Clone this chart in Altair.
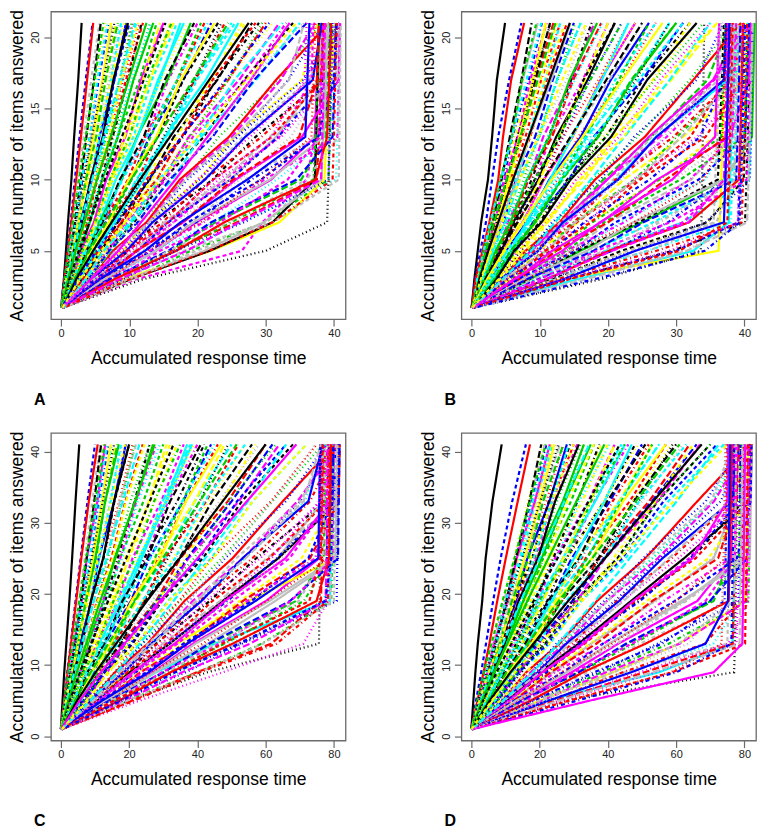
import altair as alt
import pandas as pd

LEVELS_21 = [1, 3, 5, 7, 10, 13, 17, 21]
LEVELS_41 = [1, 5, 9, 13, 19, 25, 33, 41]

# accumulated response time of each respondent at those levels (panel A, 21 items)
TIMES_A = [
    [0, 0.4, 0.7, 1.0, 1.5, 1.9, 2.5, 3.0],
    [0.1, 1.4, 2.4, 3.8, 5.3, 7.4, 9.5, 12.0],
    [0.2, 3.9, 8.3, 11.5, 18.2, 23.1, 32.0, 37.9],
    [0.1, 0.8, 1.5, 2.3, 3.1, 4.2, 5.5, 7.0],
    [0.2, 2.9, 4.9, 7.9, 11.0, 15.4, 19.6, 25.0],
    [0.3, 6.4, 13.9, 19.8, 30.8, 37.2, 37.5, 37.8],
    [0.1, 1.7, 3.5, 4.7, 7.5, 9.4, 13.1, 16.0],
    [0, 1.1, 1.9, 3.0, 4.1, 5.6, 7.2, 9.0],
    [0.2, 4.6, 9.9, 14.0, 22.2, 28.5, 38.5, 39.0],
    [0.2, 3.1, 6.4, 8.8, 14.0, 17.6, 24.5, 30.0],
    [0.1, 1.6, 2.7, 4.2, 6.0, 8.3, 10.6, 13.5],
    [0, 0.4, 0.9, 1.4, 2.0, 2.7, 3.6, 4.6],
    [0.3, 8.6, 18.4, 26.3, 40.3, 40.5, 40.7, 40.9],
    [0.1, 2.4, 3.9, 6.3, 8.8, 12.5, 15.7, 20.0],
    [0.2, 0.9, 1.8, 2.4, 3.8, 4.7, 6.6, 8.0],
    [0.3, 5.1, 11.2, 15.6, 24.8, 31.5, 37.8, 38.2],
    [0.3, 3.9, 6.6, 10.7, 15.0, 20.9, 26.8, 34.0],
    [0.3, 1.1, 2.3, 3.2, 4.9, 6.2, 8.7, 10.5],
    [0.1, 10.3, 19.0, 29.9, 39.2, 39.4, 39.6, 39.8],
    [0.2, 2.2, 4.8, 6.5, 10.3, 12.9, 17.9, 22.0],
    [0, 2.1, 3.6, 5.7, 8.0, 11.2, 14.2, 18.0],
    [0.3, 11.0, 26.5, 29.5, 36.0, 37.2, 37.6, 38.0],
    [0, 0.7, 1.3, 2.1, 2.9, 4.0, 5.1, 6.5],
    [0.2, 6.5, 11.9, 19.1, 27.0, 37.4, 40.3, 40.6],
    [0.3, 2.9, 5.9, 8.3, 13.0, 16.5, 22.9, 28.0],
    [0, 0.5, 1.0, 1.5, 2.2, 2.9, 3.8, 4.7],
    [0.3, 1.4, 3.0, 4.2, 6.6, 8.3, 11.5, 14.0],
    [0.1, 4.4, 8.1, 13.2, 18.5, 25.9, 33.3, 38.5],
    [0.1, 1.2, 2.5, 3.3, 5.1, 6.5, 9.0, 11.0],
    [0.1, 3.3, 6.8, 9.4, 14.9, 18.7, 26.1, 32.0],
    [0.3, 9.0, 22.0, 32.0, 38.6, 38.9, 39.5, 40.2],
    [0.2, 9.0, 18.0, 30.0, 37.0, 37.4, 37.8, 38.2],
    [0.2, 12.0, 30.0, 39.0, 39.2, 39.3, 39.4, 39.5],
    [0.3, 2.5, 5.1, 7.1, 11.3, 14.0, 19.7, 24.0],
    [0.1, 7.3, 16.0, 22.6, 35.2, 38.8, 39.1, 39.4],
    [0.2, 1.0, 2.1, 2.8, 4.5, 5.6, 7.8, 9.5],
    [0.3, 2.0, 3.3, 5.4, 7.5, 10.6, 13.3, 17.0],
    [0.1, 5.6, 10.2, 16.4, 23.1, 32.3, 39.7, 40.1],
    [0.2, 2.8, 5.8, 7.9, 12.6, 15.8, 22.0, 27.0],
    [0, 0.8, 1.7, 2.3, 3.6, 4.4, 6.1, 7.5],
    [0.3, 10.1, 21.8, 31.0, 37.2, 37.4, 37.6, 37.8],
    [0.3, 2.1, 4.5, 6.2, 9.8, 12.3, 17.1, 21.0],
    [0.2, 1.3, 2.8, 3.8, 6.1, 7.6, 10.7, 13.0],
    [0.1, 6.7, 12.2, 19.8, 27.9, 38.0, 38.3, 38.6],
    [0.2, 3.6, 7.4, 10.3, 16.3, 20.5, 28.6, 35.0],
    [0, 1.8, 2.9, 4.8, 6.6, 9.4, 11.7, 15.0],
    [0.3, 4.1, 9.0, 12.7, 20.2, 25.4, 35.3, 37.6],
    [0, 0.9, 1.9, 2.5, 4.0, 5.0, 7.0, 8.5],
    [0.1, 3.4, 5.6, 9.1, 12.8, 17.9, 22.7, 29.0],
    [0.2, 8.7, 16.1, 25.8, 37.5, 37.8, 38.1, 38.4],
    [0.2, 1.9, 4.1, 5.6, 8.9, 11.1, 15.6, 19.0],
    [0, 1.3, 2.0, 3.2, 4.4, 6.3, 7.8, 10.0],
    [0.2, 7.5, 13.8, 22.3, 31.6, 39.7, 40.0, 40.3],
    [0.2, 3.4, 7.0, 9.7, 15.3, 19.3, 27.0, 33.0],
    [0.1, 1.9, 3.4, 5.0, 7.4, 10.1, 13.0, 16.5],
    [0.2, 9.8, 21.0, 29.7, 38.2, 38.4, 38.6, 38.8],
    [0.1, 2.6, 4.5, 7.2, 10.1, 14.2, 17.9, 23.0],
    [0.2, 1.3, 2.3, 3.6, 5.2, 7.1, 9.1, 11.5],
    [0.3, 8.0, 16.8, 24.9, 37.0, 37.3, 37.6, 37.9],
    [0.1, 4.0, 7.0, 11.2, 15.9, 22.2, 28.3, 36.0],
    [0, 2.7, 5.5, 7.7, 12.1, 15.2, 21.2, 26.0],
    [0.3, 5.5, 11.0, 16.5, 24.0, 32.0, 36.7, 37.0],
    [0.3, 3.5, 6.1, 9.6, 13.7, 19.1, 24.4, 31.0],
    [0, 0.6, 1.2, 1.7, 2.5, 3.3, 4.4, 5.6],
    [0, 0.75, 1.45, 2.0, 2.9, 3.7, 4.8, 5.8],
    [0.2, 4.4, 7.6, 12.5, 17.4, 24.6, 31.5, 39.3],
    [0.1, 0.5, 1.05, 1.7, 2.6, 3.6, 4.9, 6.2],
    [0.1, 4.1, 9.2, 12.8, 20.3, 25.8, 35.5, 40.8],
    [0, 0.75, 1.3, 2.1, 3.0, 4.2, 5.3, 6.8],
    [0.3, 4.5, 7.9, 12.8, 17.9, 25.0, 32.2, 37.2],
    [0.1, 0.95, 1.8, 2.55, 3.65, 4.7, 6.05, 7.3],
    [0.2, 4.2, 9.4, 13.1, 20.9, 26.6, 36.4, 39.9],
    [0.2, 0.6, 1.35, 2.1, 3.3, 4.5, 6.2, 7.8],
    [0.1, 5.2, 9.3, 14.9, 21.0, 29.4, 38.0, 40.9],
    [0, 0.9, 1.6, 2.6, 3.65, 5.15, 6.5, 8.3],
    [0.3, 4.3, 9.6, 13.4, 21.1, 27.0, 36.9, 38.2],
    [0.1, 1.15, 2.2, 3.1, 4.4, 5.6, 7.3, 8.8],
    [0.2, 4.9, 8.7, 14.1, 19.9, 27.7, 36.3, 36.7],
    [0.2, 0.75, 1.6, 2.5, 3.9, 5.4, 7.35, 9.3],
    [0.1, 4.8, 10.8, 15.1, 23.9, 30.6, 40.3, 40.6],
    [0.1, 1.1, 1.85, 3.05, 4.3, 6.1, 7.65, 9.8],
    [0.3, 5.5, 9.7, 15.7, 22.3, 30.9, 38.2, 38.5],
    [0, 1.35, 2.6, 3.6, 5.15, 6.6, 8.55, 10.3],
    [0.2, 5.0, 11.2, 15.7, 24.8, 31.8, 39.2, 39.5],
    [0.3, 0.85, 1.85, 2.9, 4.55, 6.25, 8.55, 10.8],
    [0.1, 6.2, 11.1, 17.9, 25.6, 35.3, 40.7, 40.9],
    [0.1, 1.25, 2.15, 3.5, 5.0, 7.0, 8.8, 11.3],
    [0.3, 5.3, 11.9, 16.6, 26.2, 33.7, 38.7, 39.0],
    [0.2, 1.55, 2.95, 4.1, 5.9, 7.55, 9.8, 11.8],
    [0.2, 6.1, 11.0, 17.8, 25.2, 34.9, 37.5, 37.8],
    [0.1, 1.0, 2.1, 3.4, 5.25, 7.25, 9.9, 12.5],
    [0.1, 6.0, 13.2, 18.6, 29.3, 37.7, 40.0, 40.3],
    [0.2, 1.45, 2.5, 4.1, 5.8, 8.2, 10.3, 13.2],
    [0.3, 7.2, 13.0, 20.9, 29.8, 40.5, 40.7, 40.9],
    [0.1, 1.9, 3.6, 5.1, 7.25, 9.3, 12.0, 14.5],
    [0.2, 6.3, 13.9, 19.4, 30.6, 38.5, 38.8, 39.1],
    [0.3, 1.2, 2.6, 4.15, 6.4, 8.9, 12.1, 15.3],
    [0.1, 7.0, 12.7, 20.5, 29.3, 36.7, 37.0, 37.3],
    [0.1, 1.8, 3.1, 5.0, 7.1, 10.0, 12.6, 16.2],
    [0.3, 7.1, 15.7, 22.0, 34.5, 39.8, 40.1, 40.4],
    [0.2, 2.3, 4.4, 6.1, 8.75, 11.2, 14.5, 17.5],
    [0.2, 7.9, 14.5, 23.2, 33.2, 37.8, 38.1, 38.4],
    [0.1, 1.5, 3.15, 5.0, 7.8, 10.7, 14.6, 18.5],
    [0.1, 8.4, 15.8, 24.5, 36.0, 40.6, 40.75, 40.9],
    [0.3, 2.15, 3.7, 6.05, 8.6, 12.1, 15.2, 19.5],
    [0.3, 7.8, 16.9, 23.9, 37.3, 39.0, 39.3, 39.6],
    [0.1, 2.65, 5.1, 7.2, 10.25, 13.1, 17.0, 20.5],
    [0.2, 9.1, 16.8, 26.8, 39.2, 39.4, 39.6, 39.8],
    [0.2, 1.7, 3.65, 5.8, 9.0, 12.5, 17.0, 21.5],
    [0.1, 8.5, 18.4, 26.1, 38.1, 38.3, 38.5, 38.7],
    [0.1, 2.5, 4.3, 7.0, 9.9, 13.95, 17.55, 22.5],
    [0.3, 10.6, 19.8, 31.1, 40.7, 40.8, 40.9, 41.0],
    [0.3, 3.05, 5.9, 8.2, 11.75, 15.0, 19.5, 23.5],
    [0.2, 10.1, 21.7, 31.0, 39.8, 40.0, 40.2, 40.4],
    [0.1, 1.95, 4.15, 6.6, 10.3, 14.2, 19.35, 24.5],
    [0.1, 5.6, 12.3, 17.5, 27.3, 35.8, 36.1, 36.4],
    [0.2, 2.8, 4.85, 7.9, 11.2, 15.8, 19.9, 25.5],
    [0.3, 5.3, 9.8, 15.6, 22.4, 30.8, 35.7, 36.0],
    [0.1, 3.45, 6.6, 9.3, 13.25, 16.95, 22.0, 26.5],
    [0.2, 4.4, 8.0, 12.9, 18.2, 25.4, 33.4, 35.6],
    [0.3, 2.2, 4.7, 7.4, 11.55, 15.95, 21.7, 27.5],
    [0.1, 3.15, 5.4, 8.85, 12.5, 17.7, 22.2, 28.5],
    [0.2, 3.85, 7.4, 10.3, 14.75, 18.9, 24.5, 29.5],
    [0.1, 2.45, 5.2, 8.2, 12.8, 17.7, 24.1, 30.5],
    [0.3, 3.6, 6.2, 10.1, 14.3, 20.2, 25.4, 32.5],
    [0.1, 4.35, 8.4, 11.7, 16.75, 21.45, 27.8, 33.5],
    [0.2, 2.75, 5.85, 9.3, 14.5, 20.0, 27.25, 34.5],
    [0.1, 3.9, 6.75, 11.0, 15.6, 22.0, 27.7, 35.5],
]

# panel B, 21 items
TIMES_B = [
    [0, 0.4, 0.9, 1.4, 2.4, 3.0, 3.7, 4.9],
    [0.2, 1.6, 2.7, 4.4, 6.1, 8.6, 11.0, 14.0],
    [0.1, 4.3, 8.0, 12.4, 17.8, 24.3, 32.0, 38.4],
    [0.1, 1.1, 2.2, 3.0, 4.8, 6.0, 8.4, 10.3],
    [0.3, 10.8, 19.7, 31.0, 40.7, 40.9, 41.1, 41.3],
    [0.3, 2.7, 4.6, 7.5, 10.6, 14.8, 18.9, 24.0],
    [0.2, 5.7, 12.4, 17.3, 27.6, 35.6, 39.3, 39.6],
    [0.1, 1.8, 3.6, 5.0, 7.9, 9.9, 13.9, 17.0],
    [0.2, 14.0, 29.5, 40.1, 40.3, 40.5, 40.7, 40.9],
    [0, 1.4, 2.3, 3.8, 5.2, 7.4, 9.4, 12.0],
    [0.2, 3.4, 5.9, 9.4, 13.1, 18.5, 23.6, 30.0],
    [0, 0.5, 1.3, 2.1, 3.0, 3.9, 5.5, 7.3],
    [0.3, 7.1, 15.6, 21.9, 34.3, 37.7, 38.0, 38.3],
    [0.2, 2.0, 4.3, 5.8, 9.3, 11.6, 16.3, 20.0],
    [0.1, 5.3, 9.8, 15.6, 22.3, 31.0, 40.6, 40.9],
    [0, 1.1, 1.9, 3.0, 4.2, 5.9, 7.5, 9.7],
    [0.2, 11.9, 22.0, 34.6, 39.9, 40.1, 40.3, 40.5],
    [0.1, 2.6, 5.8, 7.8, 12.6, 15.6, 22.0, 27.0],
    [0.3, 4.9, 10.8, 15.0, 23.9, 30.1, 38.7, 39.0],
    [0.2, 1.7, 2.9, 4.7, 6.5, 9.3, 11.9, 15.0],
    [0.3, 15.5, 32.5, 37.7, 37.9, 38.1, 38.3, 38.5],
    [0.2, 8.0, 20.0, 31.0, 37.5, 37.7, 38.0, 38.3],
    [0.3, 3.1, 6.9, 9.4, 15.3, 19.3, 26.8, 33.0],
    [0.1, 9.2, 17.2, 27.0, 39.6, 39.8, 40.0, 40.2],
    [0.2, 1.2, 2.4, 3.3, 5.3, 6.7, 9.3, 11.5],
    [0, 0.6, 1.6, 2.6, 3.9, 4.6, 5.8, 7.7],
    [0.3, 6.4, 13.9, 19.4, 30.6, 40.0, 40.3, 40.6],
    [0.1, 2.5, 4.2, 6.8, 9.6, 13.5, 17.3, 22.0],
    [0.2, 12.2, 25.8, 38.0, 38.2, 38.4, 38.6, 38.8],
    [0.3, 1.9, 3.9, 5.3, 8.4, 10.5, 14.7, 18.0],
    [0.2, 13.0, 36.2, 36.4, 36.6, 36.8, 37.0, 37.2],
    [0.2, 10.0, 26.0, 35.5, 35.7, 36.0, 36.3, 36.6],
    [0.3, 19.0, 33.6, 33.7, 33.8, 33.9, 34.0, 34.1],
    [0, 1.5, 2.5, 4.1, 5.7, 7.9, 10.2, 13.0],
    [0.1, 4.7, 8.4, 13.5, 19.3, 26.3, 34.6, 37.9],
    [0.2, 2.9, 5.0, 8.1, 11.4, 16.0, 20.4, 26.0],
    [0.3, 9.6, 17.9, 26.6, 38.6, 38.8, 39.0, 39.2],
    [0.2, 3.9, 6.7, 10.9, 15.3, 21.6, 27.6, 35.0],
    [0.1, 1.0, 2.2, 3.1, 5.0, 6.3, 8.8, 10.8],
    [0.2, 6.5, 14.6, 20.0, 32.2, 38.2, 38.5, 38.8],
    [0.1, 2.2, 4.4, 6.1, 9.8, 12.4, 17.0, 21.0],
    [0.3, 5.0, 11.4, 15.4, 24.3, 32.1, 37.2, 37.5],
    [0.2, 1.8, 3.1, 5.0, 6.9, 9.9, 12.5, 16.0],
    [0.1, 9.5, 20.6, 28.8, 37.2, 37.4, 37.6, 37.8],
    [0.3, 2.8, 6.2, 8.4, 13.4, 16.9, 23.6, 29.0],
    [0.2, 4.6, 8.7, 13.1, 19.9, 26.0, 35.4, 40.0],
    [0.2, 1.4, 2.6, 3.6, 5.8, 7.3, 10.1, 12.5],
    [0.3, 16.0, 31.3, 39.3, 39.5, 39.7, 39.9, 40.1],
    [0.1, 3.6, 6.2, 10.0, 14.0, 19.7, 25.1, 32.0],
    [0.2, 2.1, 3.7, 6.0, 8.3, 11.8, 14.9, 19.0],
    [0.2, 8.6, 15.9, 25.0, 37.0, 41.1, 41.3, 41.5],
    [0.3, 14.0, 30.0, 39.1, 39.3, 39.5, 39.7, 39.9],
    [0.2, 3.2, 5.4, 8.8, 12.3, 17.4, 22.1, 28.0],
    [0.1, 4.5, 9.3, 14.1, 21.4, 28.6, 37.0, 37.3],
    [0.3, 3.7, 7.5, 10.6, 16.6, 20.9, 29.3, 36.0],
    [0.1, 1.5, 3.0, 4.2, 6.7, 8.4, 11.7, 14.5],
    [0.3, 8.4, 15.6, 24.5, 36.1, 36.4, 36.7, 37.0],
    [0.1, 2.3, 4.8, 6.7, 10.6, 13.3, 18.6, 23.0],
    [0.2, 5.8, 12.6, 17.7, 27.5, 36.6, 36.9, 37.2],
    [0.2, 3.3, 6.5, 9.0, 14.3, 17.9, 25.0, 31.0],
    [0.3, 4.4, 9.6, 13.6, 21.3, 27.0, 37.6, 40.5],
    [0, 1.3, 2.1, 3.4, 4.8, 6.8, 8.6, 11.0],
    [0.2, 11.0, 23.0, 34.5, 39.5, 39.7, 39.9, 40.1],
    [0.1, 2.6, 5.2, 7.2, 11.7, 14.6, 20.2, 25.0],
    [0, 1.15, 2.2, 3.1, 4.4, 5.6, 7.3, 8.8],
    [0.2, 4.5, 7.9, 12.9, 18.1, 25.4, 32.5, 39.5],
    [0.1, 1.05, 1.8, 2.95, 4.2, 5.9, 7.4, 9.5],
    [0.1, 3.8, 8.6, 11.8, 18.9, 23.8, 33.0, 36.9],
    [0.2, 0.8, 1.75, 2.75, 4.3, 5.9, 8.05, 10.2],
    [0.3, 4.8, 8.7, 14.1, 19.8, 27.6, 35.6, 41.0],
    [0.1, 1.4, 2.7, 3.8, 5.45, 7.0, 9.05, 10.9],
    [0.2, 4.2, 9.5, 13.0, 20.8, 26.4, 36.3, 38.6],
    [0.3, 1.3, 2.2, 3.6, 5.1, 7.2, 9.05, 11.6],
    [0.1, 5.3, 9.2, 15.0, 21.1, 29.6, 38.2, 40.0],
    [0.1, 1.0, 2.1, 3.3, 5.15, 7.15, 9.7, 12.3],
    [0.3, 4.2, 9.8, 13.4, 21.5, 27.1, 37.0, 37.4],
    [0.2, 1.7, 3.25, 4.55, 6.5, 8.3, 10.8, 13.0],
    [0.2, 5.9, 10.3, 16.9, 23.7, 33.1, 40.7, 40.95],
    [0.1, 1.5, 2.6, 4.25, 6.0, 8.5, 10.7, 13.7],
    [0.1, 4.8, 11.0, 15.2, 24.2, 30.8, 38.2, 38.5],
    [0.3, 1.15, 2.45, 3.9, 6.05, 8.35, 11.4, 14.4],
    [0.3, 6.1, 10.8, 17.5, 24.7, 34.3, 39.6, 39.9],
    [0.1, 2.0, 3.8, 5.3, 7.6, 9.7, 12.6, 15.2],
    [0.2, 5.2, 11.9, 16.5, 26.1, 33.5, 37.0, 37.3],
    [0.2, 1.75, 3.05, 4.95, 7.05, 9.9, 12.5, 16.0],
    [0.1, 6.6, 11.8, 19.0, 27.2, 37.9, 40.6, 40.9],
    [0.1, 1.35, 2.85, 4.55, 7.05, 9.75, 13.3, 16.8],
    [0.3, 6.0, 13.5, 18.7, 29.6, 38.6, 38.9, 39.2],
    [0.3, 2.3, 4.4, 6.15, 8.8, 11.25, 14.6, 17.6],
    [0.2, 7.0, 12.4, 20.0, 28.5, 37.4, 37.7, 38.0],
    [0.1, 2.0, 3.5, 5.7, 8.1, 11.4, 14.35, 18.4],
    [0.1, 6.8, 15.2, 21.1, 33.3, 40.1, 40.4, 40.7],
    [0.2, 1.55, 3.25, 5.2, 8.05, 11.15, 15.15, 19.2],
    [0.3, 7.7, 13.9, 22.4, 32.0, 38.2, 38.5, 38.8],
    [0.1, 2.6, 5.0, 7.0, 10.0, 12.8, 16.6, 20.0],
    [0.2, 7.6, 16.9, 23.7, 37.1, 40.8, 41.0, 41.2],
    [0.3, 2.3, 4.0, 6.5, 9.25, 13.0, 16.4, 21.0],
    [0.1, 8.2, 14.8, 23.8, 34.1, 36.8, 37.1, 37.4],
    [0.1, 1.75, 3.75, 5.95, 9.25, 12.75, 17.4, 22.0],
    [0.3, 8.1, 17.9, 25.2, 38.8, 39.0, 39.2, 39.4],
    [0.2, 3.0, 5.75, 8.05, 11.5, 14.7, 19.1, 23.0],
    [0.2, 10.0, 18.3, 29.1, 40.4, 40.6, 40.8, 41.0],
    [0.1, 2.65, 4.55, 7.45, 10.55, 14.9, 18.7, 24.0],
    [0.1, 8.9, 19.5, 27.6, 37.8, 38.0, 38.2, 38.4],
    [0.3, 2.0, 4.25, 6.75, 10.5, 14.5, 19.75, 25.0],
    [0.3, 11.0, 20.2, 31.9, 39.2, 39.4, 39.6, 39.8],
    [0.1, 3.4, 6.5, 9.1, 13.0, 16.65, 21.6, 26.0],
    [0.2, 11.0, 24.0, 34.3, 40.8, 41.0, 41.1, 41.2],
    [0.2, 2.95, 5.15, 8.35, 11.9, 16.75, 21.05, 27.0],
    [0.1, 10.9, 20.6, 31.8, 37.0, 37.2, 37.4, 37.6],
    [0.1, 2.25, 4.75, 7.55, 11.75, 16.25, 22.1, 28.0],
    [0.3, 12.4, 22.9, 35.9, 38.5, 38.7, 38.9, 39.1],
    [0.3, 3.75, 7.25, 10.15, 14.5, 18.55, 24.05, 29.0],
    [0.2, 12.6, 27.1, 39.6, 39.8, 40.0, 40.2, 40.4],
    [0.1, 3.3, 5.7, 9.3, 13.2, 18.6, 23.4, 30.0],
    [0.1, 13.5, 24.0, 37.0, 37.2, 37.4, 37.6, 37.8],
    [0.2, 2.5, 5.25, 8.35, 13.0, 18.0, 24.5, 31.0],
    [0.3, 13.5, 29.0, 39.0, 39.2, 39.4, 39.6, 39.8],
    [0.1, 4.15, 8.0, 11.2, 16.0, 20.5, 26.55, 32.0],
    [0.2, 16.8, 31.6, 40.4, 40.6, 40.8, 41.0, 41.2],
    [0.3, 3.65, 6.25, 10.25, 14.5, 20.45, 25.75, 33.0],
    [0.1, 14.3, 30.5, 37.5, 37.7, 37.9, 38.1, 38.3],
    [0.1, 2.7, 5.8, 9.2, 14.3, 19.7, 26.85, 34.0],
    [0.3, 18.0, 34.2, 39.3, 39.5, 39.7, 39.9, 40.1],
    [0.2, 4.55, 8.75, 12.25, 17.5, 22.4, 29.05, 35.0],
    [0.2, 6.2, 13.3, 18.8, 29.4, 35.7, 36.0, 36.3],
    [0.1, 3.95, 6.85, 11.15, 15.85, 22.3, 28.1, 36.0],
    [0.1, 4.6, 9.8, 14.0, 21.8, 28.2, 36.0, 36.3],
]

# panel C, 41 items
TIMES_C = [
    [0, 0.5, 1.0, 1.6, 2.5, 3.3, 4.3, 5.4],
    [0.3, 2.7, 4.6, 7.5, 10.6, 14.8, 18.9, 24.0],
    [0.2, 8.3, 15.7, 23.9, 34.8, 47.1, 62.0, 76.8],
    [0.1, 1.6, 2.7, 4.4, 6.1, 8.6, 11.0, 14.0],
    [0.4, 5.6, 9.8, 15.6, 21.9, 30.5, 39.2, 50.0],
    [0.5, 12.8, 27.0, 38.7, 60.1, 75.7, 76.0, 76.3],
    [0.2, 3.5, 6.9, 9.5, 14.8, 18.8, 26.1, 32.0],
    [0.1, 2.0, 3.5, 5.7, 7.9, 11.1, 14.2, 18.0],
    [0.4, 9.5, 19.7, 27.8, 43.6, 57.2, 77.6, 80.5],
    [0.3, 6.4, 12.8, 17.6, 27.9, 35.0, 48.9, 60.0],
    [0.2, 2.8, 5.7, 7.9, 12.5, 15.7, 21.9, 27.0],
    [0, 0.9, 1.9, 2.9, 4.3, 5.8, 7.8, 10.0],
    [0.3, 16.5, 34.8, 49.5, 76.9, 80.7, 81.0, 81.3],
    [0.4, 4.5, 7.8, 12.7, 17.6, 24.8, 31.4, 40.0],
    [0.2, 1.7, 3.4, 4.7, 7.5, 9.4, 13.1, 16.0],
    [0.3, 10.9, 21.7, 31.8, 48.2, 63.5, 76.7, 77.0],
    [0.5, 7.4, 13.3, 21.0, 29.6, 41.6, 53.0, 68.0],
    [0.3, 2.2, 4.5, 6.2, 9.8, 12.3, 17.1, 21.0],
    [0.4, 19.2, 40.2, 58.8, 79.2, 79.5, 79.8, 80.1],
    [0.2, 4.6, 9.5, 13.0, 20.5, 25.9, 35.8, 44.0],
    [0.2, 13.0, 28.0, 45.0, 78.8, 79.1, 79.4, 79.7],
    [0.3, 3.8, 7.6, 10.4, 16.7, 21.0, 29.4, 36.0],
    [0, 1.3, 2.6, 3.6, 5.8, 7.3, 10.1, 12.5],
    [0.4, 12.6, 25.3, 37.6, 56.0, 74.5, 78.3, 78.6],
    [0.3, 6.1, 10.8, 17.5, 24.6, 34.7, 44.3, 56.0],
    [0, 1.0, 2.0, 3.0, 4.5, 6.0, 8.2, 10.8],
    [0.2, 3.2, 6.4, 8.7, 13.8, 17.3, 24.2, 30.0],
    [0.3, 8.6, 17.9, 26.4, 40.7, 53.5, 70.1, 79.9],
    [0.1, 1.8, 2.9, 4.8, 6.6, 9.4, 11.7, 15.0],
    [0.4, 6.8, 13.6, 18.8, 29.7, 37.4, 52.1, 64.0],
    [0.2, 8.0, 20.0, 34.0, 55.0, 80.5, 80.8, 81.1],
    [0.3, 12.0, 33.0, 52.0, 79.0, 79.3, 79.6, 80.0],
    [0.3, 20.0, 43.0, 75.6, 75.8, 76.0, 76.2, 76.4],
    [0.3, 5.2, 9.0, 14.7, 20.5, 28.6, 36.6, 46.0],
    [0.4, 14.2, 30.1, 43.6, 68.9, 77.0, 77.3, 77.6],
    [0.2, 1.9, 4.1, 5.6, 8.9, 11.1, 15.6, 19.0],
    [0.2, 7.9, 13.7, 22.4, 31.3, 44.0, 56.2, 72.0],
    [0.3, 23.0, 47.5, 71.0, 78.3, 78.6, 78.9, 79.2],
    [0.3, 3.5, 7.2, 9.9, 15.6, 19.8, 27.6, 34.0],
    [0.1, 2.5, 4.2, 6.8, 9.6, 13.5, 17.3, 22.0],
    [0.5, 10.7, 20.2, 31.9, 47.4, 63.7, 81.3, 81.6],
    [0.4, 5.4, 11.2, 15.3, 24.3, 30.5, 42.6, 52.0],
    [0.2, 2.9, 5.0, 8.1, 11.4, 16.0, 20.4, 26.0],
    [0.3, 16.8, 33.3, 52.5, 77.6, 77.9, 78.2, 78.5],
    [0.2, 4.2, 7.3, 11.8, 16.6, 23.4, 29.8, 38.0],
    [0.1, 1.3, 2.8, 3.8, 6.1, 7.6, 10.7, 13.0],
    [0.4, 12.0, 23.0, 35.8, 52.4, 70.5, 80.0, 80.3],
    [0.3, 6.0, 12.3, 16.9, 26.8, 33.6, 46.5, 58.0],
    [0.3, 4.3, 8.7, 12.2, 19.4, 24.4, 34.1, 42.0],
    [0.2, 20.8, 39.9, 61.6, 76.2, 76.5, 76.8, 77.1],
    [0.2, 1.9, 3.4, 5.0, 7.4, 10.1, 13.0, 17.0],
    [0.3, 7.1, 12.7, 20.5, 28.9, 40.6, 51.6, 66.0],
    [0.4, 9.1, 18.6, 27.0, 41.2, 54.0, 71.5, 77.6],
    [0.1, 3.2, 5.6, 8.8, 12.3, 17.4, 22.1, 28.0],
    [0.4, 4.9, 10.4, 13.9, 22.3, 27.9, 39.2, 48.0],
    [0.3, 14.5, 27.6, 43.0, 62.8, 81.0, 81.3, 81.6],
    [0.2, 2.3, 3.9, 6.3, 8.8, 12.5, 15.7, 20.0],
    [0.5, 8.1, 15.8, 22.0, 34.6, 44.3, 61.5, 75.0],
    [0.3, 15.4, 31.2, 47.9, 71.2, 78.7, 79.0, 79.3],
    [0.3, 6.4, 12.6, 18.4, 28.2, 37.0, 50.0, 62.0],
    [0.2, 3.8, 7.8, 11.2, 17.6, 22.9, 31.0, 38.5],
    [0.4, 11.5, 22.0, 34.1, 50.3, 67.0, 79.0, 79.3],
    [0.2, 5.7, 11.0, 16.6, 24.0, 32.8, 43.5, 54.0],
    [0, 1.2, 2.4, 3.5, 5.3, 7.0, 9.2, 11.5],
    [0, 1.55, 2.95, 4.15, 5.9, 7.55, 9.8, 11.8],
    [0.2, 8.8, 15.9, 25.4, 36.2, 50.3, 65.0, 80.5],
    [0.1, 1.0, 2.2, 3.45, 5.4, 7.4, 10.1, 12.8],
    [0.1, 7.6, 16.9, 23.8, 37.4, 48.1, 65.9, 77.7],
    [0.2, 1.5, 2.6, 4.2, 6.0, 8.45, 10.6, 13.6],
    [0.3, 9.3, 16.9, 27.0, 38.6, 53.4, 69.3, 81.4],
    [0.1, 1.9, 3.65, 5.1, 7.3, 9.35, 12.1, 14.6],
    [0.2, 8.2, 18.0, 25.5, 39.9, 51.4, 70.2, 78.6],
    [0.3, 1.25, 2.65, 4.2, 6.55, 9.05, 12.3, 15.6],
    [0.1, 9.7, 17.8, 28.3, 40.7, 56.1, 73.0, 81.0],
    [0.1, 1.85, 3.15, 5.15, 7.3, 10.3, 12.95, 16.6],
    [0.3, 8.5, 18.6, 26.4, 41.2, 53.2, 72.5, 76.8],
    [0.2, 2.3, 4.4, 6.15, 8.8, 11.25, 14.6, 17.6],
    [0.2, 10.1, 18.6, 29.5, 42.4, 58.4, 76.2, 79.6],
    [0.1, 1.5, 3.2, 5.1, 7.9, 10.9, 14.85, 18.8],
    [0.1, 9.6, 21.1, 29.8, 46.6, 60.3, 81.4, 81.7],
    [0.3, 2.2, 3.8, 6.2, 8.8, 12.4, 15.6, 20.0],
    [0.3, 10.6, 19.5, 30.9, 44.4, 61.0, 78.0, 78.3],
    [0.1, 2.8, 5.4, 7.5, 10.75, 13.75, 17.85, 21.5],
    [0.2, 10.1, 22.0, 31.3, 48.8, 63.2, 80.2, 80.5],
    [0.2, 1.85, 3.9, 6.2, 9.65, 13.35, 18.15, 23.0],
    [0.1, 11.4, 21.0, 33.3, 48.0, 65.8, 78.8, 79.1],
    [0.1, 2.7, 4.65, 7.6, 10.8, 15.2, 19.1, 24.5],
    [0.3, 10.4, 22.5, 32.0, 49.8, 64.6, 76.4, 76.7],
    [0.3, 3.4, 6.5, 9.1, 13.0, 16.65, 21.6, 26.0],
    [0.2, 12.6, 23.4, 36.9, 53.3, 73.0, 81.4, 81.7],
    [0.1, 2.2, 4.7, 7.4, 11.55, 15.95, 21.7, 27.5],
    [0.1, 11.6, 25.1, 35.9, 55.8, 72.5, 79.6, 79.9],
    [0.2, 3.2, 5.5, 9.0, 12.75, 18.0, 22.6, 29.0],
    [0.3, 12.9, 23.9, 37.8, 54.6, 74.6, 77.2, 77.5],
    [0.1, 4.05, 7.75, 10.85, 15.5, 19.85, 25.75, 31.0],
    [0.2, 12.8, 27.5, 39.4, 61.1, 80.4, 80.7, 81.0],
    [0.3, 2.65, 5.6, 8.9, 13.85, 19.15, 26.05, 33.0],
    [0.1, 14.2, 26.4, 41.5, 60.2, 78.2, 78.5, 78.8],
    [0.1, 3.85, 6.65, 10.85, 15.4, 21.7, 27.3, 35.0],
    [0.3, 14.1, 30.2, 43.4, 67.1, 81.2, 81.4, 81.6],
    [0.2, 4.8, 9.25, 12.95, 18.5, 23.7, 30.7, 37.0],
    [0.2, 15.8, 29.6, 46.3, 67.4, 79.8, 80.1, 80.4],
    [0.1, 3.1, 6.65, 10.55, 16.4, 22.6, 30.8, 39.0],
    [0.1, 14.7, 31.4, 45.2, 69.7, 76.8, 77.1, 77.4],
    [0.3, 4.5, 7.8, 12.7, 18.05, 25.4, 32.0, 41.0],
    [0.3, 17.1, 32.2, 50.3, 74.9, 78.6, 78.9, 79.2],
    [0.1, 5.6, 10.75, 15.05, 21.5, 27.5, 35.7, 43.0],
    [0.2, 17.3, 36.7, 53.1, 80.8, 81.0, 81.2, 81.4],
    [0.2, 3.6, 7.65, 12.15, 18.9, 26.1, 35.55, 45.0],
    [0.1, 18.8, 35.6, 55.4, 77.6, 77.8, 78.0, 78.2],
    [0.1, 5.15, 8.95, 14.55, 20.7, 29.15, 36.65, 47.0],
    [0.3, 19.4, 40.7, 59.1, 80.0, 80.2, 80.4, 80.6],
    [0.3, 6.35, 12.25, 17.15, 24.5, 31.35, 40.65, 49.0],
    [0.2, 21.4, 40.8, 63.2, 78.2, 78.4, 78.6, 78.8],
    [0.1, 4.1, 8.75, 13.9, 21.65, 29.85, 40.7, 51.5],
    [0.1, 12.1, 25.8, 37.0, 57.0, 75.4, 75.7, 76.0],
    [0.2, 5.95, 10.25, 16.75, 23.75, 33.5, 42.1, 54.0],
    [0.3, 10.0, 21.4, 30.8, 47.6, 61.7, 75.7, 76.0],
    [0.1, 7.4, 14.25, 19.95, 28.5, 36.5, 47.3, 57.0],
    [0.2, 9.4, 17.2, 27.1, 39.5, 54.1, 71.1, 76.2],
    [0.3, 4.8, 10.2, 16.2, 25.2, 34.8, 47.4, 60.0],
    [0.1, 15.4, 32.6, 47.2, 72.8, 76.1, 76.4, 76.7],
    [0.1, 6.95, 12.0, 19.55, 27.7, 39.05, 49.15, 63.0],
    [0.3, 17.8, 33.5, 52.0, 77.5, 79.2, 79.5, 79.8],
    [0.2, 8.6, 16.5, 23.1, 33.0, 42.25, 54.8, 66.0],
    [0.1, 5.5, 11.75, 18.65, 29.0, 40.0, 54.5, 69.0],
    [0.3, 7.9, 13.7, 22.3, 31.7, 44.65, 56.15, 72.0],
    [0.1, 9.7, 18.6, 26.1, 37.25, 47.7, 61.85, 74.5],
]

# panel D, 41 items
TIMES_D = [
    [0, 0.6, 1.2, 1.9, 3.2, 4.2, 6.2, 8.9],
    [0.3, 3.4, 5.9, 9.4, 13.1, 18.5, 23.6, 30.0],
    [0.3, 9.0, 17.5, 26.8, 39.8, 53.1, 70.6, 80.5],
    [0.1, 2.4, 4.3, 6.5, 9.8, 13.0, 17.8, 22.0],
    [0.4, 6.1, 10.8, 17.2, 24.1, 33.9, 43.3, 55.0],
    [0.5, 14.1, 29.4, 43.0, 66.2, 76.2, 76.5, 76.8],
    [0.2, 4.0, 7.9, 11.2, 17.5, 22.5, 30.9, 38.0],
    [0.1, 2.8, 4.8, 7.7, 10.9, 15.3, 19.6, 25.0],
    [0.4, 10.5, 21.5, 30.8, 49.0, 64.6, 79.7, 80.0],
    [0.3, 6.8, 13.6, 18.8, 29.7, 37.4, 52.1, 64.0],
    [0.2, 3.5, 6.9, 9.6, 15.2, 19.2, 26.8, 33.0],
    [0, 1.4, 2.9, 4.3, 6.4, 8.6, 12.0, 16.0],
    [0.3, 22.8, 46.5, 70.9, 78.7, 79.0, 79.3, 79.6],
    [0.4, 5.0, 9.0, 13.9, 20.2, 27.9, 36.1, 46.0],
    [0.2, 2.4, 4.9, 6.8, 10.8, 13.7, 19.1, 23.5],
    [0.3, 11.6, 23.9, 35.1, 53.7, 71.0, 77.2, 77.5],
    [0.5, 7.7, 13.8, 21.6, 30.5, 42.8, 54.6, 70.0],
    [0.3, 2.8, 5.8, 8.0, 12.6, 15.8, 22.0, 27.0],
    [0.4, 19.6, 38.3, 57.8, 81.1, 81.4, 81.7, 82.0],
    [0.2, 5.2, 10.7, 14.8, 23.2, 29.4, 40.6, 50.0],
    [0.3, 22.0, 55.0, 76.5, 76.8, 77.1, 77.4, 77.7],
    [0.3, 4.4, 8.9, 12.2, 19.5, 24.5, 34.3, 42.0],
    [0, 2.2, 4.1, 6.4, 9.3, 12.5, 16.6, 21.0],
    [0.4, 14.2, 27.4, 42.5, 63.0, 80.4, 80.7, 81.0],
    [0.3, 6.5, 11.6, 18.8, 26.3, 37.2, 47.5, 60.0],
    [0, 1.8, 3.6, 5.3, 7.6, 10.1, 13.6, 17.2],
    [0.2, 3.9, 7.7, 10.5, 16.6, 21.0, 29.2, 36.0],
    [0.3, 9.4, 19.0, 27.5, 42.0, 55.2, 73.1, 79.4],
    [0.1, 2.8, 4.6, 7.6, 10.6, 14.9, 18.7, 24.0],
    [0.4, 7.1, 14.2, 19.7, 31.0, 39.2, 54.5, 67.0],
    [0.2, 20.0, 41.5, 60.8, 80.2, 80.5, 80.8, 81.1],
    [0.3, 17.0, 45.0, 75.0, 75.3, 75.6, 75.9, 76.2],
    [0.3, 27.0, 77.0, 77.2, 77.4, 77.6, 77.8, 78.0],
    [0.3, 5.8, 10.1, 16.4, 23.1, 32.3, 41.4, 52.0],
    [0.4, 15.0, 31.2, 45.6, 71.0, 75.7, 76.0, 76.3],
    [0.2, 2.8, 6.0, 8.3, 13.1, 16.4, 22.9, 28.0],
    [0.2, 8.1, 14.1, 23.0, 32.2, 45.2, 57.7, 74.0],
    [0.3, 26.8, 54.0, 77.7, 78.0, 78.3, 78.6, 78.9],
    [0.3, 4.1, 8.5, 11.7, 18.5, 23.3, 32.5, 40.0],
    [0.1, 2.9, 5.0, 8.1, 11.4, 16.0, 20.4, 26.0],
    [0.5, 10.6, 20.0, 31.4, 46.8, 62.3, 81.8, 82.1],
    [0.4, 5.9, 12.2, 16.8, 26.6, 33.5, 46.4, 57.0],
    [0.2, 3.6, 6.2, 10.0, 14.0, 19.7, 25.1, 32.0],
    [0.3, 18.2, 36.0, 55.8, 74.2, 74.5, 74.8, 75.1],
    [0.2, 4.8, 8.4, 13.6, 19.2, 27.0, 34.5, 44.0],
    [0.1, 2.3, 4.8, 6.6, 10.6, 13.3, 18.6, 23.0],
    [0.4, 11.8, 22.3, 34.9, 51.4, 69.5, 81.0, 81.3],
    [0.3, 6.4, 13.2, 18.2, 28.8, 36.2, 50.1, 62.0],
    [0.3, 4.9, 10.0, 13.9, 22.2, 27.9, 38.9, 48.0],
    [0.2, 24.7, 50.8, 76.6, 76.9, 77.2, 77.5, 77.8],
    [0.2, 3.7, 6.8, 10.3, 15.3, 20.6, 27.4, 35.0],
    [0.3, 7.7, 13.9, 22.4, 31.5, 44.2, 56.3, 72.0],
    [0.4, 9.0, 17.8, 26.2, 39.8, 53.0, 70.7, 77.9],
    [0.1, 3.5, 6.1, 9.7, 13.6, 19.1, 24.4, 31.0],
    [0.4, 5.4, 11.5, 15.4, 24.6, 30.9, 43.3, 53.0],
    [0.3, 13.4, 27.9, 40.3, 61.5, 81.6, 81.9, 82.2],
    [0.2, 3.3, 5.7, 9.0, 12.6, 17.8, 22.7, 29.0],
    [0.3, 29.0, 58.5, 73.3, 73.6, 73.9, 74.2, 74.5],
    [0.3, 15.2, 31.6, 47.6, 70.1, 78.4, 78.7, 79.0],
    [0.3, 6.9, 13.1, 19.4, 29.6, 38.8, 52.9, 66.0],
    [0.2, 4.5, 9.2, 13.2, 20.6, 26.8, 36.3, 45.0],
    [0.4, 10.9, 21.0, 32.2, 47.6, 63.8, 77.0, 77.3],
    [0.2, 6.2, 11.9, 17.9, 26.0, 35.5, 47.1, 58.5],
    [0, 2.3, 4.5, 6.3, 9.6, 12.7, 17.1, 21.5],
    [0, 2.65, 5.1, 7.2, 10.25, 13.1, 17.0, 20.5],
    [0.2, 8.9, 16.1, 25.8, 36.8, 51.0, 66.2, 81.8],
    [0.1, 1.75, 3.7, 5.9, 9.15, 12.65, 17.2, 21.8],
    [0.1, 8.0, 17.6, 24.9, 38.9, 50.3, 68.7, 79.0],
    [0.2, 2.55, 4.35, 7.15, 10.1, 14.25, 17.95, 23.0],
    [0.3, 9.5, 17.4, 27.6, 39.7, 54.6, 71.1, 81.2],
    [0.1, 3.15, 6.1, 8.5, 12.15, 15.55, 20.15, 24.3],
    [0.2, 8.2, 18.0, 25.5, 39.9, 51.6, 70.3, 76.6],
    [0.3, 2.05, 4.35, 6.9, 10.75, 14.85, 20.2, 25.6],
    [0.1, 10.1, 18.7, 29.6, 42.6, 58.7, 76.5, 82.3],
    [0.1, 2.95, 5.15, 8.35, 11.9, 16.75, 21.05, 27.0],
    [0.3, 9.0, 19.5, 27.8, 43.3, 56.0, 76.2, 78.4],
    [0.2, 3.7, 7.1, 10.0, 14.25, 18.25, 23.65, 28.5],
    [0.2, 10.5, 19.4, 30.6, 44.1, 60.6, 79.8, 80.1],
    [0.1, 2.4, 5.1, 8.1, 12.6, 17.4, 23.7, 30.0],
    [0.1, 9.3, 20.1, 28.7, 44.6, 57.9, 75.8, 76.1],
    [0.3, 3.45, 6.0, 9.75, 13.85, 19.55, 24.55, 31.5],
    [0.3, 11.3, 21.0, 33.2, 48.0, 65.7, 81.4, 81.7],
    [0.1, 4.3, 8.25, 11.55, 16.5, 21.1, 27.4, 33.0],
    [0.2, 10.3, 22.2, 31.8, 49.4, 64.2, 78.6, 78.9],
    [0.2, 2.75, 5.85, 9.3, 14.5, 20.0, 27.25, 34.5],
    [0.1, 11.2, 20.8, 32.8, 47.4, 64.8, 75.0, 75.3],
    [0.1, 3.95, 6.85, 11.15, 15.85, 22.3, 28.1, 36.0],
    [0.3, 11.3, 24.5, 34.9, 54.2, 70.6, 80.4, 80.7],
    [0.3, 4.9, 9.4, 13.1, 18.75, 24.0, 31.1, 37.5],
    [0.2, 12.5, 23.2, 36.6, 53.0, 72.3, 77.8, 78.1],
    [0.1, 3.1, 6.65, 10.55, 16.4, 22.6, 30.8, 39.0],
    [0.1, 12.5, 26.9, 38.5, 59.6, 77.8, 81.8, 82.1],
    [0.2, 4.45, 7.7, 12.55, 17.8, 25.1, 31.6, 40.5],
    [0.3, 13.3, 24.6, 38.8, 56.3, 76.0, 76.3, 76.6],
    [0.1, 5.45, 10.5, 14.7, 21.0, 26.9, 34.85, 42.0],
    [0.2, 13.1, 28.1, 40.4, 62.4, 79.0, 79.3, 79.6],
    [0.3, 3.5, 7.4, 11.75, 18.25, 25.25, 34.35, 43.5],
    [0.1, 14.1, 26.4, 41.2, 60.0, 74.4, 74.7, 75.0],
    [0.1, 4.95, 8.55, 13.95, 19.8, 27.9, 35.1, 45.0],
    [0.3, 14.8, 31.5, 45.3, 69.9, 80.8, 81.1, 81.4],
    [0.2, 6.1, 11.75, 16.45, 23.5, 30.1, 39.0, 47.0],
    [0.2, 16.0, 30.1, 47.0, 68.6, 77.2, 77.5, 77.8],
    [0.1, 3.9, 8.35, 13.25, 20.6, 28.4, 38.7, 49.0],
    [0.1, 16.1, 34.2, 49.4, 75.8, 79.6, 79.9, 80.2],
    [0.3, 5.6, 9.7, 15.8, 22.45, 31.6, 39.8, 51.0],
    [0.3, 17.4, 32.8, 51.0, 75.4, 75.7, 76.0, 76.3],
    [0.1, 6.9, 13.25, 18.55, 26.5, 33.9, 44.0, 53.0],
    [0.2, 17.8, 37.5, 54.5, 78.4, 78.6, 78.8, 79.0],
    [0.2, 4.4, 9.35, 14.85, 23.1, 31.9, 43.45, 55.0],
    [0.1, 20.7, 39.5, 61.0, 80.6, 80.8, 81.0, 81.2],
    [0.1, 6.25, 10.85, 17.65, 25.1, 35.35, 44.45, 57.0],
    [0.3, 19.9, 41.7, 60.7, 77.0, 77.2, 77.4, 77.6],
    [0.3, 7.65, 14.75, 20.65, 29.5, 37.75, 49.0, 59.0],
    [0.2, 23.2, 44.4, 68.4, 79.2, 79.4, 79.6, 79.8],
    [0.1, 4.9, 10.35, 16.45, 25.6, 35.4, 48.2, 61.0],
    [0.1, 22.5, 46.9, 68.6, 75.2, 75.4, 75.6, 75.8],
    [0.2, 6.95, 12.0, 19.55, 27.7, 39.05, 49.15, 63.0],
    [0.3, 25.5, 49.2, 75.3, 81.2, 81.4, 81.6, 81.8],
    [0.1, 8.45, 16.25, 22.75, 32.5, 41.6, 53.95, 65.0],
    [0.2, 25.6, 53.1, 78.6, 78.8, 79.0, 79.2, 79.4],
    [0.3, 5.4, 11.5, 18.2, 28.35, 39.15, 53.3, 67.5],
    [0.1, 28.5, 58.9, 80.2, 80.4, 80.6, 80.8, 81.0],
    [0.1, 7.7, 13.3, 21.7, 30.8, 43.4, 54.6, 70.0],
    [0.3, 31.0, 60.1, 76.2, 76.4, 76.6, 76.8, 77.0],
    [0.2, 9.4, 18.1, 25.4, 36.25, 46.4, 60.2, 72.5],
    [0.2, 34.6, 71.0, 79.4, 79.6, 79.8, 80.0, 80.2],
    [0.1, 6.0, 12.75, 20.25, 31.5, 43.5, 59.25, 75.0],
    [0.1, 21.6, 41.6, 63.6, 73.7, 73.9, 74.1, 74.3],
]

X_TICKS_40 = [0, 10, 20, 30, 40]
X_TICKS_80 = [0, 20, 40, 60, 80]
Y_TICKS_21 = [5, 10, 15, 20]
Y_TICKS_41 = [0, 10, 20, 30, 40]

# R's classic palette (col = 1:8) and line types (lty = 1:5)
R_PALETTE = ["#000000", "#FF0000", "#00CD00", "#0000FF", "#00FFFF", "#FF00FF", "#FFFF00", "#BEBEBE"]
R_LTY = [[1, 0], [4, 3], [1, 3], [1, 3, 4, 3], [7, 3]]

FONT = "Liberation Sans"


def frame(times, levels):
    rows = []
    for person, series in enumerate(times):
        for k, (t, y) in enumerate(zip(series, levels)):
            rows.append({"person": person, "k": k, "t": t, "y": y,
                         "col": person % 8, "lty": person % 5})
    return pd.DataFrame(rows)


def panel(times, levels, xdom, ydom, xticks, yticks, letter):
    df = frame(times, levels)
    return alt.Chart(df).mark_line(strokeWidth=2.2, clip=True).encode(
        x=alt.X("t:Q",
                scale=alt.Scale(domain=xdom, nice=False, zero=False),
                axis=alt.Axis(values=xticks, title="Accumulated response time",
                              labelPadding=1, titlePadding=11)),
        y=alt.Y("y:Q",
                scale=alt.Scale(domain=ydom, nice=False, zero=False),
                axis=alt.Axis(values=yticks, title="Accumulated number of items answered",
                              labelAngle=270, labelAlign="center", labelBaseline="bottom",
                              titlePadding=3)),
        color=alt.Color("col:N", scale=alt.Scale(domain=list(range(8)), range=R_PALETTE),
                        legend=None),
        strokeDash=alt.StrokeDash("lty:N", scale=alt.Scale(domain=list(range(5)), range=R_LTY),
                                  legend=None),
        detail="person:N",
        order=alt.Order("k:Q"),
    ).properties(
        width=295, height=308,
        title=alt.TitleParams(letter, orient="bottom", anchor="start", frame="group",
                              dx=-17, offset=25, fontSize=16, fontWeight="bold",
                              font=FONT, color="#000000"),
    )


pa = panel(TIMES_A, LEVELS_21, [-1.5, 41.7], [0.2, 21.8], X_TICKS_40, Y_TICKS_21, "A")
pb = panel(TIMES_B, LEVELS_21, [-1.5, 41.7], [0.2, 21.8], X_TICKS_40, Y_TICKS_21, "B")
pc = panel(TIMES_C, LEVELS_41, [-2.9, 83.4], [-0.6, 42.6], X_TICKS_80, Y_TICKS_41, "C")
pd_ = panel(TIMES_D, LEVELS_41, [-2.9, 83.4], [-0.6, 42.6], X_TICKS_80, Y_TICKS_41, "D")

chart = alt.vconcat(
    alt.hconcat(pa, pb, spacing=72),
    alt.hconcat(pc, pd_, spacing=72),
    spacing=21,
).properties(
    padding={"left": 0, "top": 0, "right": 0, "bottom": 0},
    background="white",
).configure_view(
    stroke="#6b6b6b", strokeWidth=1.3,
).configure_axis(
    domain=False, grid=False, ticks=True, tickSize=7, tickColor="#6b6b6b", tickWidth=1.2,
    labelFont=FONT, labelFontSize=11, labelColor="#222222", labelPadding=3,
    titleFont=FONT, titleFontSize=17.5, titleFontWeight="normal", titleColor="#000000",
).configure_concat(spacing=0)

chart.save("out.html", embed_options={"renderer": "svg", "actions": False})
